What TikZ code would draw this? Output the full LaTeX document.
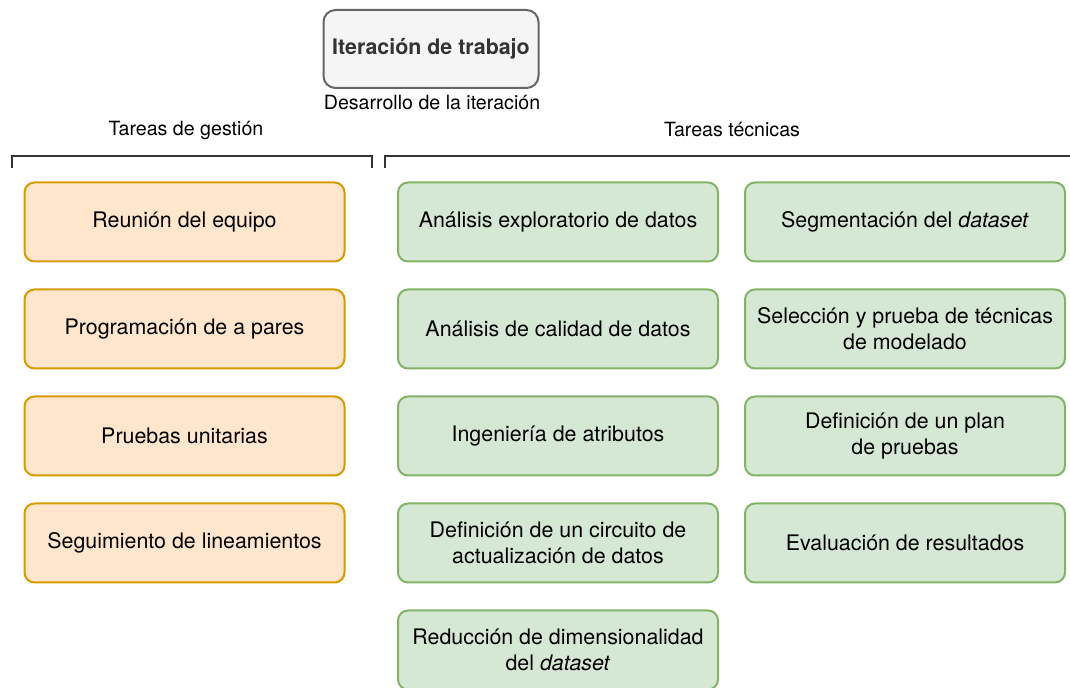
\documentclass[tikz,border=0pt]{standalone}
\usepackage{fontspec}
\setmainfont{TeX Gyre Heros}
\usetikzlibrary{positioning}

\definecolor{naranjafondo}{HTML}{FFE6CC}
\definecolor{naranjaborde}{HTML}{D79B00}
\definecolor{verdefondo}{HTML}{D5E8D4}
\definecolor{verdeborde}{HTML}{82B366}
\definecolor{grisfondo}{HTML}{F5F5F5}
\definecolor{grisborde}{HTML}{666666}
\definecolor{gristexto}{HTML}{333333}

\tikzset{
  tarea/.style={rectangle, rounded corners=5pt, line width=1pt, inner sep=0pt,
    minimum width=160pt, minimum height=39.5pt, align=center,
    font=\fontsize{10.7}{13}\selectfont, text=black},
  gestion/.style={tarea, draw=naranjaborde, fill=naranjafondo},
  tecnica/.style={tarea, draw=verdeborde, fill=verdefondo},
  rotulo/.style={font=\fontsize{9.8}{12}\selectfont, text=black},
  corchete/.style={line width=1pt, draw=gristexto},
}

\begin{document}
\begin{tikzpicture}[x=0.5pt, y=-0.5pt]
			%%%%% START %%%%%
			\useasboundingbox (0,0) rectangle (1070,688);
			
			\node[rectangle, rounded corners=6pt, line width=1pt, draw=grisborde, fill=grisfondo,
			  minimum width=107.5pt, minimum height=39pt, text=gristexto,
			  font=\fontsize{10.7}{13}\selectfont\bfseries] (iteracion) at (431,49) {Iteración de trabajo};
			\node[rotulo] (desarrollo) at (432,103) {Desarrollo de la iteración};
			
			\node[rotulo] (lblgestion) at (186,130) {Tareas de gestión};
			\node[rotulo] (lbltecnicas) at (732,130) {Tareas técnicas};
			
			\draw[corchete] (12,168) |- (372,156) -- (372,168);
			\draw[corchete] (385,168) |- (1074,156);
			
			% tareas de gestion
			\node[gestion] (reunion) at (184.5,222) {Reunión del equipo};
			\node[gestion, below=13pt of reunion] (pares) {Programación de a pares};
			\node[gestion, below=13pt of pares] (unitarias) {Pruebas unitarias};
			\node[gestion, below=13pt of unitarias] (lineamientos) {Seguimiento de lineamientos};
			
			% tareas tecnicas
			\node[tecnica] (exploratorio) at (558,222) {Análisis exploratorio de datos};
			\node[tecnica, below=13pt of exploratorio] (calidad) {Análisis de calidad de datos};
			\node[tecnica, below=13pt of calidad] (atributos) {Ingeniería de atributos};
			\node[tecnica, below=13pt of atributos] (circuito) {Definición de un circuito de\\actualización de datos};
			\node[tecnica, below=13pt of circuito] (reduccion) {Reducción de dimensionalidad\\del \textit{dataset}};
			
			\node[tecnica, right=12.5pt of exploratorio] (segmentacion) {Segmentación del \textit{dataset}};
			\node[tecnica, below=13pt of segmentacion] (modelado) {Selección y prueba de técnicas\\de modelado};
			\node[tecnica, below=13pt of modelado] (plan) {Definición de un plan\\de pruebas};
			\node[tecnica, below=13pt of plan] (evaluacion) {Evaluación de resultados};
			
			%%%%% END %%%%%
\end{tikzpicture}
\end{document}
